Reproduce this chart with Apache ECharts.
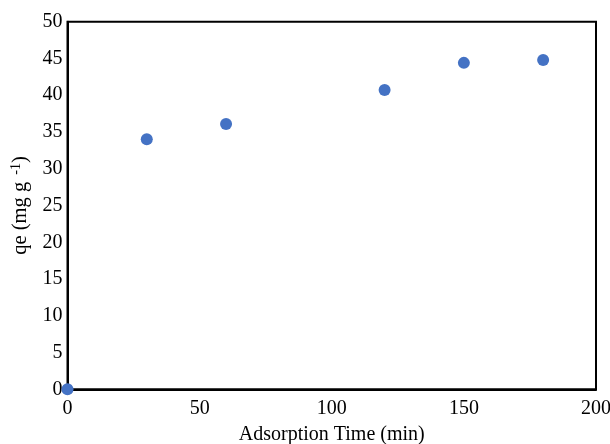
<!DOCTYPE html>
<html>
<head>
<meta charset="utf-8">
<script src="https://cdn.jsdelivr.net/npm/echarts@6/dist/echarts.min.js"></script>
<style>
  html, body { margin: 0; padding: 0; background: #fff; }
  #tu1 { width: 610px; height: 444px; }
</style>
</head>
<body>
<div id="tu1"></div>
<script>
// adsorption time (min) and qe (mg/g)
var times = [0, 30, 60, 120, 150, 180];
var qe = [0, 34.0, 36.1, 40.7, 44.4, 44.8];

var points = times.map(function (t, i) { return [t, qe[i]]; });

var myChart1 = echarts.init(document.getElementById('tu1'));

var labelFont = {
    color: '#000',
    fontFamily: 'Liberation Serif',
    fontSize: 20
};

var option1 = {
    animation: false,
    grid: {
        left: 67.5,
        right: 14,
        top: 21.7,
        bottom: 54.7,
        outerBoundsMode: 'none',
        containLabel: false,
        show: true,
        borderColor: '#000',
        borderWidth: 2,
        backgroundColor: '#fff'
    },
    xAxis: {
        type: 'value',
        min: 0,
        max: 200,
        interval: 50,
        name: 'Adsorption Time (min)',
        nameLocation: 'middle',
        nameGap: 35,
        nameTextStyle: {
            color: '#000',
            fontFamily: 'Liberation Serif',
            fontSize: 20
        },
        axisLine: { lineStyle: { color: '#000', width: 2 } },
        axisTick: { show: false },
        splitLine: { show: false },
        axisLabel: Object.assign({ margin: 9 }, labelFont)
    },
    yAxis: {
        type: 'value',
        min: 0,
        max: 50,
        interval: 5,
        name: '{a|qe (mg g }{s|-1}{a|)}',
        nameLocation: 'middle',
        nameGap: 36,
        nameTextStyle: {
            rich: {
                a: { color: '#000', fontFamily: 'Liberation Serif', fontSize: 20.5 },
                s: { color: '#000', fontFamily: 'Liberation Serif', fontSize: 14, verticalAlign: 'top', padding: [0, 0, 8, 2] }
            }
        },
        axisLine: { lineStyle: { color: '#000', width: 2 } },
        axisTick: { show: false },
        splitLine: { show: false },
        axisLabel: Object.assign({ margin: 5 }, labelFont)
    },
    series: [{
        type: 'scatter',
        data: points,
        symbol: 'circle',
        symbolSize: 12,
        itemStyle: { color: '#4472C4', opacity: 1 }
    }]
};

myChart1.setOption(option1);
</script>
</body>
</html>
